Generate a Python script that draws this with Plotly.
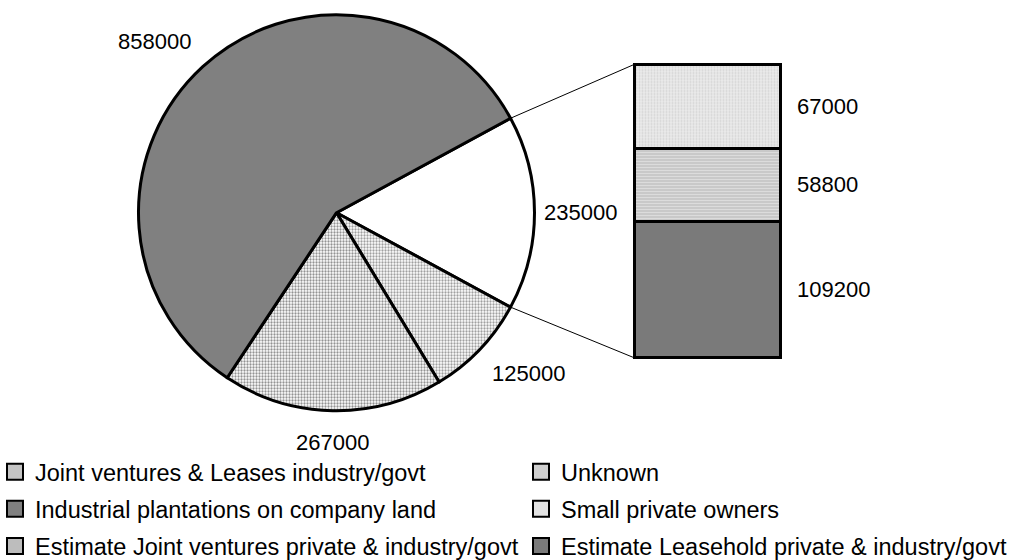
import math
import plotly.graph_objects as go

# ---------------- data ----------------
pie_names = ["Unknown", "Joint ventures & Leases industry/govt", "Industrial plantations on company land"]
pie_values = [125000, 267000, 858000]
bar_names = ["Estimate Leasehold private & industry/govt",
             "Estimate Joint ventures private & industry/govt",
             "Small private owners"]
bar_values = [109200, 58800, 67000]
other_value = sum(bar_values)          # the white "other" slice = bar total

# ---------------- styles ----------------
W, H = 1020, 560
PIE_CX, PIE_CY, PIE_R = 336.5, 212.7, 198.0           # pixels
BAR_X0, BAR_X1, BAR_TOP, BAR_BOT = 634.0, 780.0, 64.5, 357.7
PAD = 5.0
pie_colors = ["#ffffff", "#e0e0e0", "#d8d8d8", "#808080"]
pie_pattern_shapes = ["", ".", ".", ""]
pie_pattern_fg = ["#ffffff", "#a0a0a0", "#939393", "#808080"]
bar_colors = ["#7a7a7a", "#bdbdbd", "#e8e8e8"]
label_font = dict(family="Liberation Sans, Arial", size=22, color="black")
legend_font = dict(family="Liberation Sans, Arial", size=23.5, color="black")

all_pie_values = [other_value] + pie_values
total = sum(all_pie_values)
rotation = 90 - 180.0 * other_value / total   # centre the "other" slice on 3 o'clock

fig = go.Figure()

fig.add_trace(go.Pie(
    values=all_pie_values,
    labels=["Other"] + pie_names,
    sort=False,
    direction="clockwise",
    rotation=rotation,
    textinfo="none",
    hoverinfo="label+value",
    showlegend=False,
    marker=dict(colors=pie_colors, line=dict(color="black", width=3),
                pattern=dict(shape=pie_pattern_shapes, fgcolor=pie_pattern_fg,
                             size=3, solidity=0.45)),
    domain=dict(x=[(PIE_CX - PIE_R) / W, (PIE_CX + PIE_R) / W],
                y=[1 - (PIE_CY + PIE_R) / H, 1 - (PIE_CY - PIE_R) / H]),
))

# stacked bar of the "other" slice
for name, val, col in zip(bar_names, bar_values, bar_colors):
    m = dict(color=col, line=dict(color="black", width=3))
    if name.startswith("Estimate Joint"):
        m["pattern"] = dict(shape="-", fgcolor="#888888", bgcolor="#e4e4e4", size=3, solidity=0.45)
    elif name.startswith("Small"):
        m["pattern"] = dict(shape=".", fgcolor="#bcbcbc", bgcolor="#ebebeb", size=3, solidity=0.4)
    fig.add_trace(go.Bar(x=[0], y=[val], width=1, marker=m, name=name,
                         showlegend=False, hoverinfo="name+y"))

# axis geometry for the bar (padding so outlines are not clipped)
span_x = 1.0 * (BAR_X1 - BAR_X0 + 2 * PAD) / (BAR_X1 - BAR_X0)
upp = other_value / (BAR_BOT - BAR_TOP)   # units per pixel
fig.update_layout(
    xaxis=dict(domain=[(BAR_X0 - PAD) / W, (BAR_X1 + PAD) / W],
               range=[-span_x / 2, span_x / 2], visible=False, fixedrange=True),
    yaxis=dict(domain=[1 - (BAR_BOT + PAD) / H, 1 - (BAR_TOP - PAD) / H],
               range=[-PAD * upp, other_value + PAD * upp], visible=False, fixedrange=True),
    barmode="stack",
)

# bar value labels
cum = 0
for val in bar_values:
    fig.add_annotation(x=0.5, y=cum + val / 2, xref="x", yref="y", text=str(val),
                       showarrow=False, xanchor="left", yanchor="middle",
                       xshift=15, font=label_font)
    cum += val

# pie value labels placed just outside each slice
cum = 0
for val in all_pie_values:
    a = math.radians(rotation + 360.0 * (cum + val / 2) / total)
    cum += val
    sx, cy_up = math.sin(a), math.cos(a)
    gap = 7 + 10 * min(1.0, abs(cy_up))
    px = PIE_CX + (PIE_R + gap) * sx
    py = PIE_CY - (PIE_R + gap) * cy_up
    xa = "left" if sx > 0.3 else ("right" if sx < -0.3 else "center")
    ya = "bottom" if cy_up > 0.3 else ("top" if cy_up < -0.3 else "middle")
    fig.add_annotation(x=px / W, y=1 - py / H, xref="paper", yref="paper", text=str(val),
                       showarrow=False, xanchor=xa, yanchor=ya, font=label_font)

# connector lines from the "other" slice edges to the bar corners
for ang, by in [(rotation, BAR_TOP), (rotation + 360.0 * other_value / total, BAR_BOT)]:
    a = math.radians(ang)
    px = PIE_CX + PIE_R * math.sin(a)
    py = PIE_CY - PIE_R * math.cos(a)
    fig.add_shape(type="line", xref="paper", yref="paper",
                  x0=px / W, y0=1 - py / H, x1=BAR_X0 / W, y1=1 - by / H,
                  line=dict(color="black", width=1))

# legend entries (two columns)
legend_items = [
    ("Joint ventures & Leases industry/govt", "#c4c4c4", "legend"),
    ("Industrial plantations on company land", "#808080", "legend"),
    ("Estimate Joint ventures private & industry/govt", "#bdbdbd", "legend"),
    ("Unknown", "#cfcfcf", "legend2"),
    ("Small private owners", "#e3e3e3", "legend2"),
    ("Estimate Leasehold private & industry/govt", "#7a7a7a", "legend2"),
]
for i, (name, col, lg) in enumerate(legend_items):
    fig.add_trace(go.Scatter(x=[None], y=[None], mode="markers", name=name,
                             legend=lg, legendgroup=f"g{i}", hoverinfo="skip",
                             marker=dict(symbol="square", size=16, color=col,
                                         line=dict(color="black", width=2))))

leg_common = dict(font=legend_font, bgcolor="rgba(0,0,0,0)", borderwidth=0,
                  orientation="v", xanchor="left", yanchor="top",
                  tracegroupgap=3.5, itemclick=False, itemdoubleclick=False)
fig.update_layout(
    legend=dict(x=-5 / W, y=1 - 450 / H, **leg_common),
    legend2=dict(x=521 / W, y=1 - 450 / H, **leg_common),
    width=W, height=H,
    margin=dict(l=0, r=0, t=0, b=0, autoexpand=False),
    paper_bgcolor="white", plot_bgcolor="rgba(0,0,0,0)",
    showlegend=True,
)

fig.write_html("out.html")
